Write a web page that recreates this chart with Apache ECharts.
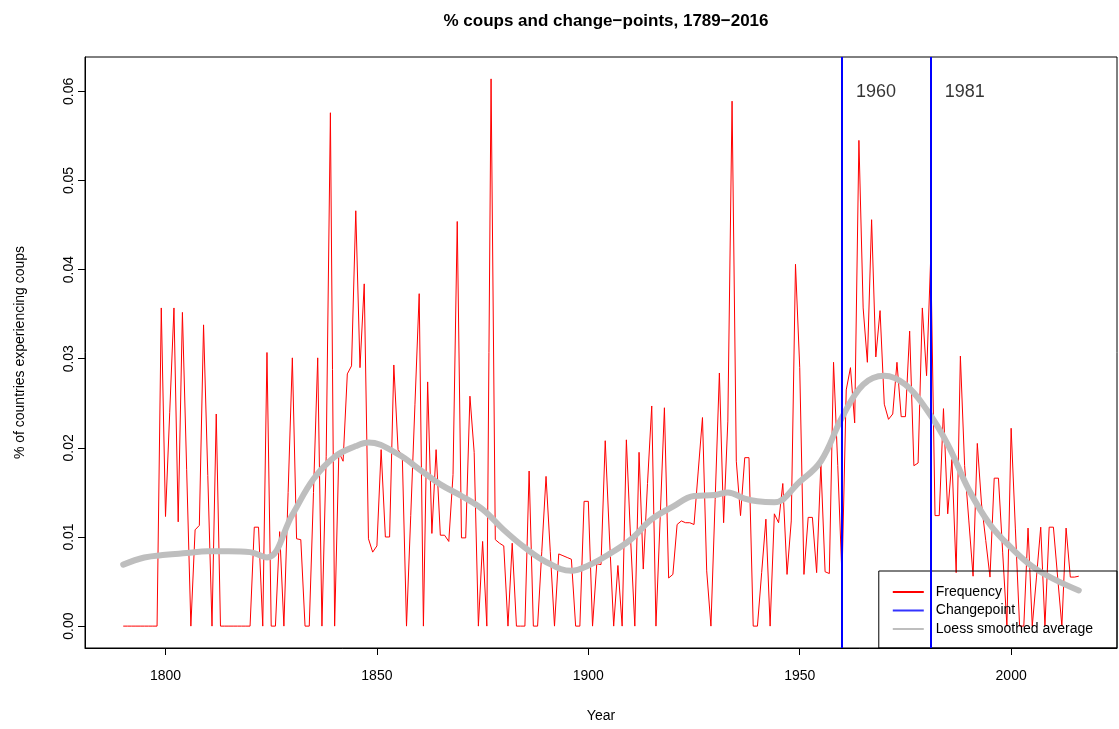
<!DOCTYPE html>
<html>
<head>
<meta charset="utf-8">
<title>% coups and change-points</title>
<script src="https://cdn.jsdelivr.net/npm/echarts@6/dist/echarts.min.js"></script>
<style>
  html, body { margin: 0; padding: 0; background: #fff; }
  #coupsChart { width: 1119px; height: 729px; }
</style>
</head>
<body>
<div id="coupsChart"></div>
<script>
// share of countries with a coup, one value per year from 1790
const firstYear = 1790
const freqValues = [
  0, 0, 0, 0, 0, 0, 0, 0, 0, 0.0357,                                        // 1790s
  0.0123, 0.024, 0.0357, 0.0117, 0.0352, 0.0176, 0, 0.0108, 0.0113, 0.0338,  // 1800s
  0.0169, 0, 0.0238, 0, 0, 0, 0, 0, 0, 0,                                    // 1810s
  0, 0.0111, 0.0111, 0, 0.0307, 0, 0, 0.0106, 0, 0.015,                      // 1820s
  0.0301, 0.0098, 0.0097, 0, 0, 0.015, 0.0301, 0, 0.019, 0.0576,             // 1830s
  0, 0.0195, 0.0185, 0.0283, 0.0292, 0.0466, 0.029, 0.0384, 0.0098, 0.0083,  // 1840s
  0.009, 0.0198, 0.01, 0.01, 0.0293, 0.0198, 0.0192, 0, 0.0124, 0.0249,      // 1850s
  0.0373, 0, 0.0274, 0.0104, 0.0198, 0.0102, 0.0102, 0.0095, 0.017, 0.0454,  // 1860s
  0.0099, 0.0099, 0.0258, 0.0195, 0, 0.0095, 0, 0.0614, 0.0097, 0.0093,      // 1870s
  0.009, 0, 0.0093, 0, 0, 0, 0.0174, 0, 0, 0.0084,                           // 1880s
  0.0168, 0.0084, 0, 0.0081, 0.0079, 0.0077, 0.0075, 0, 0, 0.014,            // 1890s
  0.014, 0, 0.007, 0.0069, 0.0208, 0.01, 0, 0.0068, 0, 0.0209,               // 1900s
  0.0098, 0, 0.0195, 0.0064, 0.016, 0.0247, 0, 0.0122, 0.0245, 0.0054,       // 1910s
  0.0058, 0.0114, 0.0118, 0.0116, 0.0116, 0.0114, 0.0174, 0.0234, 0.0062, 0, // 1920s
  0.0142, 0.0284, 0.0116, 0.023, 0.0589, 0.0185, 0.0124, 0.0189, 0.0189, 0,  // 1930s
  0, 0.006, 0.012, 0, 0.0126, 0.0116, 0.016, 0.0058, 0.0118, 0.0406,         // 1940s
  0.029, 0.0058, 0.0122, 0.0122, 0.006, 0.0182, 0.0061, 0.0059, 0.0296, 0.018,        // 1950s
  0.0055, 0.0265, 0.029, 0.0228, 0.0545, 0.0357, 0.0296, 0.0456, 0.0302, 0.0354,      // 1960s
  0.0249, 0.0232, 0.0238, 0.0296, 0.0235, 0.0235, 0.0331, 0.018, 0.0183, 0.0357,      // 1970s
  0.0281, 0.0416, 0.0124, 0.0124, 0.0244, 0.0126, 0.0187, 0.006, 0.0303, 0.018,       // 1980s
  0.0118, 0.0056, 0.0205, 0.0137, 0.0096, 0.0055, 0.0166, 0.0166, 0.0083, 0,          // 1990s
  0.0222, 0.011, 0, 0, 0.011, 0, 0.0055, 0.0111, 0, 0.0111,                           // 2000s
  0.0111, 0.0055, 0, 0.011, 0.0055, 0.0055, 0.0056                                    // 2010s
]
const years = freqValues.map((v, i) => firstYear + i)

// loess curve
const loessYears = [1790, 1795, 1800, 1805, 1810, 1815, 1820, 1824, 1830, 1835, 1840, 1845, 1848,
  1855, 1860, 1865, 1870, 1875, 1880, 1885, 1890, 1896, 1900, 1905, 1910, 1915, 1920, 1925,
  1930, 1933, 1937, 1940, 1944, 1950, 1955, 1960, 1965, 1970, 1975, 1980, 1985, 1990, 1995,
  2000, 2005, 2010, 2016]
const loessValues = [0.0069, 0.0077, 0.0080, 0.0082, 0.0084, 0.0084, 0.0083, 0.0077, 0.0125, 0.0165,
  0.0190, 0.0202, 0.0206, 0.0193, 0.0176, 0.0159, 0.0146, 0.0131, 0.0108, 0.0088, 0.0072, 0.0062,
  0.0068, 0.0081, 0.0097, 0.0120, 0.0134, 0.0146, 0.0147, 0.0150, 0.0143, 0.0140, 0.0139, 0.0162,
  0.0185, 0.0234, 0.0271, 0.0281, 0.0271, 0.0243, 0.0204, 0.0153, 0.0114, 0.0088, 0.0067, 0.0053, 0.0040]

const changepoints = [1960, 1981]
const xTicks = [1800, 1850, 1900, 1950, 2000]
const yTicks = [0, 0.01, 0.02, 0.03, 0.04, 0.05, 0.06]

// R pads the data range by 4% on each side
const lastYear = years[years.length - 1]
const xPad = (lastYear - firstYear) * 0.04
const yTop = Math.max(...freqValues)
const yPad = yTop * 0.04
const labelY = 0.0599

const font = '"Liberation Sans", Arial, Helvetica, sans-serif'

const chartDom = document.getElementById('coupsChart')
const myChart = echarts.init(chartDom)
let option

option = {
  animation: false,
  backgroundColor: '#fff',
  textStyle: { fontFamily: font, color: '#000' },
  title: {
    text: '% coups and change\u2212points, 1789\u22122016',
    left: 601,
    top: 8,
    textAlign: 'center',
    textStyle: { fontFamily: font, fontWeight: 'bold', fontSize: 17, color: '#000' }
  },
  grid: {
    left: 85, right: 2, top: 57, bottom: 81,
    show: true, borderColor: '#000', borderWidth: 1, backgroundColor: 'transparent'
  },
  legend: {
    orient: 'vertical',
    right: 2,
    bottom: 81,
    padding: [13, 24, 11, 14],
    itemWidth: 31,
    itemHeight: 2,
    itemGap: 2.5,
    borderColor: '#000',
    borderWidth: 1,
    borderRadius: 0,
    selectedMode: false,
    textStyle: { fontFamily: font, fontSize: 14, color: '#000', lineHeight: 16, padding: [0, 0, 0, 7] },
    data: [
      { name: 'Frequency', icon: 'rect', itemStyle: { color: '#ff0000' } },
      { name: 'Changepoint', icon: 'rect', itemStyle: { color: '#0000ff' } },
      { name: 'Loess smoothed average', icon: 'rect', itemStyle: { color: '#bebebe' } }
    ]
  },
  xAxis: {
    type: 'value',
    name: 'Year',
    nameLocation: 'middle',
    nameGap: 61,
    nameTextStyle: { fontFamily: font, fontSize: 14, color: '#000' },
    min: firstYear - xPad,
    max: lastYear + xPad,
    axisLine: { show: true, onZero: false, lineStyle: { color: '#000', width: 1 } },
    axisTick: { show: true, inside: false, length: 7, lineStyle: { color: '#000', width: 1 }, customValues: xTicks },
    axisLabel: {
      margin: 21, fontSize: 14, color: '#000', fontFamily: font,
      customValues: xTicks,
      formatter: v => String(v)
    },
    splitLine: { show: false }
  },
  yAxis: {
    type: 'value',
    name: '% of countries experiencing coups',
    nameLocation: 'middle',
    nameGap: 58,
    nameRotate: 90,
    nameTextStyle: { fontFamily: font, fontSize: 14, color: '#000' },
    min: -yPad,
    max: yTop + yPad,
    axisLine: { show: true, onZero: false, lineStyle: { color: '#000', width: 1 } },
    axisTick: { show: true, inside: false, length: 7, lineStyle: { color: '#000', width: 1 }, customValues: yTicks },
    axisLabel: {
      margin: 9, rotate: 90, fontSize: 14, color: '#000', fontFamily: font,
      customValues: yTicks,
      formatter: v => v.toFixed(2)
    },
    splitLine: { show: false }
  },
  series: [
    {
      name: 'Frequency',
      type: 'line',
      data: years.map((y, i) => [y, freqValues[i]]),
      showSymbol: false,
      symbol: 'none',
      itemStyle: { color: '#ff0000' },
      lineStyle: { color: '#ff0000', width: 1 },
      z: 2
    },
    {
      name: 'Loess smoothed average',
      type: 'line',
      data: loessYears.map((y, i) => [y, loessValues[i]]),
      smooth: 0.4,
      showSymbol: false,
      symbol: 'none',
      itemStyle: { color: '#bebebe' },
      lineStyle: { color: '#bebebe', width: 6, cap: 'round' },
      z: 3
    },
    {
      name: 'Changepoint',
      type: 'scatter',
      data: changepoints.map(y => [y, labelY]),
      symbolSize: 0,
      itemStyle: { color: '#0000ff' },
      label: {
        show: true,
        position: 'right',
        distance: 14,
        formatter: p => String(p.value[0]),
        fontFamily: font,
        fontSize: 18,
        color: '#000'
      },
      markLine: {
        silent: true,
        symbol: 'none',
        label: { show: false },
        lineStyle: { color: '#0000ff', width: 2, type: 'solid' },
        data: changepoints.map(y => ({ xAxis: y }))
      },
      z: 4
    }
  ]
}

option && myChart.setOption(option)
</script>
</body>
</html>
